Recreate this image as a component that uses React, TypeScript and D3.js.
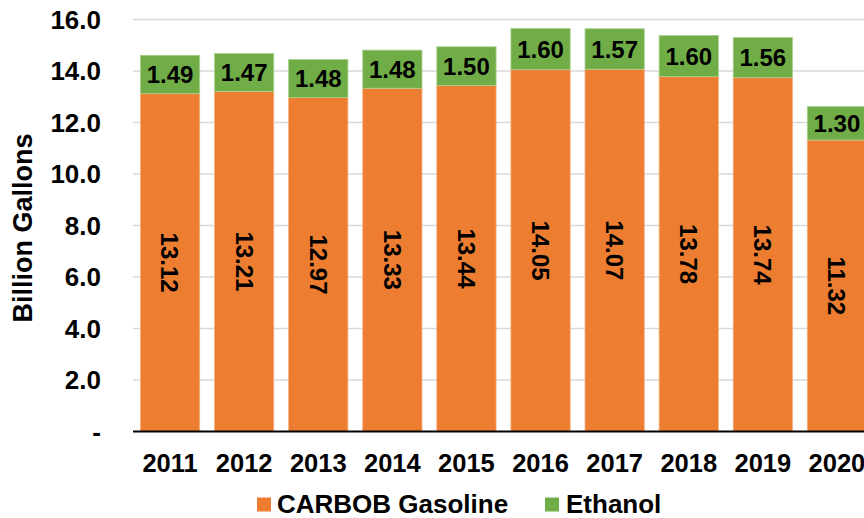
import * as d3 from "d3";

const years = ["2011", "2012", "2013", "2014", "2015", "2016", "2017", "2018", "2019", "2020"];
const carbob = [13.12, 13.21, 12.97, 13.33, 13.44, 14.05, 14.07, 13.78, 13.74, 11.32];
const ethanol = [1.49, 1.47, 1.48, 1.48, 1.5, 1.6, 1.57, 1.6, 1.56, 1.3];
const yTicks = [0, 2, 4, 6, 8, 10, 12, 14, 16];

const width = 864;
const height = 518;
const margin = { top: 19.5, left: 133, bottom: 431.5, right: 874 };
const orange = "#ed7d31";
const green = "#70ad47";
const font = "'Liberation Sans', Arial, sans-serif";

export default function App() {
  const x = d3.scaleBand<string>().domain(years).range([margin.left, margin.right]).paddingInner(0.2).paddingOuter(0.1);
  const y = d3.scaleLinear().domain([0, 16]).range([margin.bottom, margin.top]);
  const bw = x.bandwidth();

  return (
    <svg
      width={width}
      height={height}
      style={{ position: "absolute", left: 0, top: 0, background: "#fff" }}
      fontFamily={font}
      fontWeight="bold"
    >
      {yTicks.map((t) => (
        <g key={t}>
          {t > 0 && <line x1={margin.left} x2={width} y1={y(t)} y2={y(t)} stroke="#d9d9d9" strokeWidth={1.5} />}
          <text x={101} y={y(t) + 9.3} textAnchor="end" fontSize={26} fill="#000">
            {t === 0 ? "-" : t.toFixed(1)}
          </text>
        </g>
      ))}

      {years.map((yr, i) => {
        const x0 = x(yr)!;
        const cx = x0 + bw / 2;
        const top = carbob[i] + ethanol[i];
        const oMid = (y(0) + y(carbob[i])) / 2;
        const gMid = (y(carbob[i]) + y(top)) / 2;
        return (
          <g key={yr}>
            <rect x={x0} y={y(carbob[i])} width={bw} height={y(0) - y(carbob[i])} fill={orange} stroke="#f4b183" strokeWidth={0.8} />
            <rect x={x0} y={y(top)} width={bw} height={y(carbob[i]) - y(top)} fill={green} stroke="#a9d18e" strokeWidth={0.8} />
            <text x={cx} y={gMid + 8.6} textAnchor="middle" fontSize={24} fill="#000">
              {ethanol[i].toFixed(2)}
            </text>
            <text
              transform={`translate(${cx},${oMid}) rotate(90)`}
              textAnchor="middle"
              dy={8.6}
              fontSize={24}
              fill="#000"
            >
              {carbob[i].toFixed(2)}
            </text>
            <text x={cx} y={472} textAnchor="middle" fontSize={25.5} fill="#000">
              {yr}
            </text>
          </g>
        );
      })}

      <line x1={margin.left} x2={width} y1={y(0)} y2={y(0)} stroke="#000" strokeWidth={2} />

      <text transform="translate(32,228) rotate(-90)" textAnchor="middle" fontSize={27} fill="#000">
        Billion Gallons
      </text>

      <g>
        <rect x={257} y={497.5} width={14} height={14} fill={orange} />
        <text x={277} y={512.5} fontSize={26} fill="#000">CARBOB Gasoline</text>
        <rect x={545} y={497.5} width={14} height={14} fill={green} />
        <text x={566} y={512.5} fontSize={26} fill="#000">Ethanol</text>
      </g>
    </svg>
  );
}
